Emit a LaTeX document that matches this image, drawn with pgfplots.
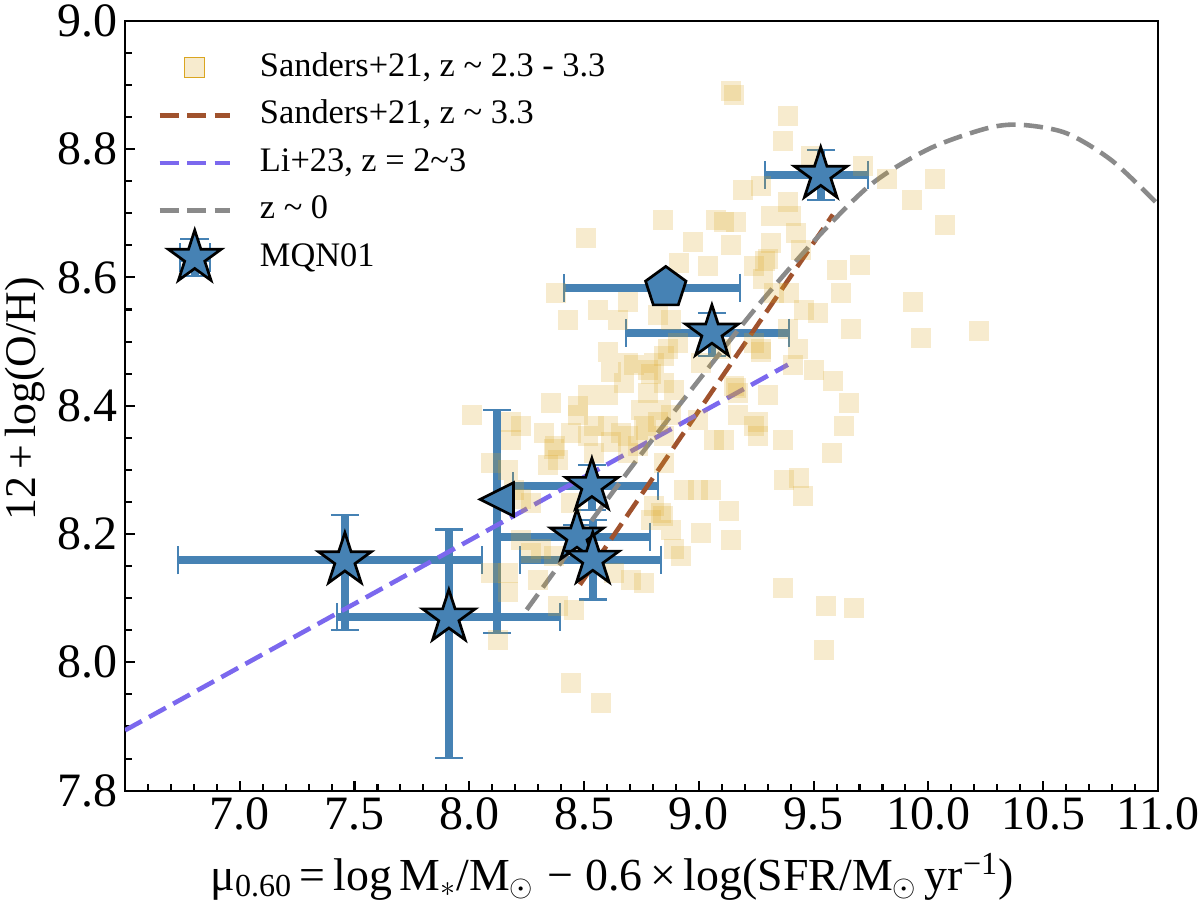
\documentclass[border=0pt]{standalone}
\usepackage{pgfplots}
\pgfplotsset{compat=1.18}
\usepackage{pgfplotstable}
\usepackage{fontspec}
\setmainfont{Liberation Serif}
\usetikzlibrary{calc}
\definecolor{sb}{RGB}{70,130,180}
\definecolor{brn}{RGB}{160,82,45}
\definecolor{pur}{RGB}{123,104,238}
\definecolor{gr}{RGB}{138,138,138}
\definecolor{gold}{RGB}{218,165,32}

\pgfdeclareplotmark{fstar}{%
  \pgfsetmiterjoin
  \pgfpathmoveto{\pgfpointpolar{90}{\pgfplotmarksize}}%
  \pgfpathlineto{\pgfpointpolar{126}{0.382\pgfplotmarksize}}%
  \pgfpathlineto{\pgfpointpolar{162}{\pgfplotmarksize}}%
  \pgfpathlineto{\pgfpointpolar{198}{0.382\pgfplotmarksize}}%
  \pgfpathlineto{\pgfpointpolar{234}{\pgfplotmarksize}}%
  \pgfpathlineto{\pgfpointpolar{270}{0.382\pgfplotmarksize}}%
  \pgfpathlineto{\pgfpointpolar{306}{\pgfplotmarksize}}%
  \pgfpathlineto{\pgfpointpolar{342}{0.382\pgfplotmarksize}}%
  \pgfpathlineto{\pgfpointpolar{18}{\pgfplotmarksize}}%
  \pgfpathlineto{\pgfpointpolar{54}{0.382\pgfplotmarksize}}%
  \pgfpathclose
  \pgfusepathqfillstroke
}
\pgfdeclareplotmark{fpent}{%
  \pgfsetmiterjoin
  \pgfpathmoveto{\pgfpointpolar{90}{\pgfplotmarksize}}%
  \pgfpathlineto{\pgfpointpolar{162}{\pgfplotmarksize}}%
  \pgfpathlineto{\pgfpointpolar{234}{\pgfplotmarksize}}%
  \pgfpathlineto{\pgfpointpolar{306}{\pgfplotmarksize}}%
  \pgfpathlineto{\pgfpointpolar{18}{\pgfplotmarksize}}%
  \pgfpathclose
  \pgfusepathqfillstroke
}
\pgfdeclareplotmark{tril}{%
  \pgfsetmiterjoin
  \pgfpathmoveto{\pgfqpoint{-\pgfplotmarksize}{0pt}}%
  \pgfpathlineto{\pgfqpoint{\pgfplotmarksize}{\pgfplotmarksize}}%
  \pgfpathlineto{\pgfqpoint{\pgfplotmarksize}{-\pgfplotmarksize}}%
  \pgfpathclose
  \pgfusepathqfillstroke
}

\pgfplotsset{
  lineleg/.style={legend image code/.code={\draw[##1] (0pt,0pt) -- (33.6pt,0pt);}},
  sqleg/.style={legend image code/.code={\path (0pt,0pt) (33.6pt,0pt); \fill[gold, fill opacity=0.22] (12pt,-4.8pt) rectangle (21.6pt,4.8pt);}},
  starleg/.style={legend image code/.code={\path (0pt,0pt) (33.6pt,0pt);
    \begin{scope}[overlay]
    \draw[sb, line width=3.8pt] (9.6pt,0pt) -- (24pt,0pt) (16.8pt,-8.9pt) -- (16.8pt,8.9pt);
    \draw[sb, line width=1pt] (9.6pt,-7pt) -- (9.6pt,7pt) (24pt,-7pt) -- (24pt,7pt) (9.8pt,8.9pt) -- (23.8pt,8.9pt) (9.8pt,-8.9pt) -- (23.8pt,-8.9pt);
    \draw plot[only marks, mark=fstar, mark size=13.3pt, mark options={fill=sb, draw=black, line width=1.3pt}] coordinates {(16.8pt,0pt)};
    \end{scope}}},
  error bars/ebar/.style={error bar style={line width=3.8pt, draw=sb, solid},
    error mark options={rotate=90, line width=1pt, mark size=6.7pt, draw=sb, solid}},
}

\pgfplotstableread{
x y
9.141 8.891
9.154 8.885
9.390 8.852
9.368 8.813
9.490 8.790
9.717 8.774
9.818 8.753
10.027 8.753
9.927 8.721
9.193 8.737
9.272 8.743
8.844 8.690
9.076 8.690
8.508 8.661
8.975 8.656
10.071 8.681
9.390 8.717
9.316 8.696
9.403 8.696
9.163 8.686
9.111 8.686
9.425 8.670
9.141 8.650
9.316 8.654
9.302 8.628
9.447 8.643
8.914 8.623
9.290 8.625
9.041 8.618
9.241 8.618
9.600 8.612
9.700 8.620
9.621 8.576
9.281 8.597
9.394 8.576
9.329 8.576
8.377 8.576
8.692 8.561
9.935 8.561
8.429 8.534
8.560 8.550
8.648 8.534
8.822 8.541
8.879 8.534
9.460 8.550
9.521 8.545
9.665 8.519
9.970 8.506
10.219 8.517
9.390 8.519
9.272 8.488
8.910 8.498
8.866 8.488
9.098 8.488
9.241 8.498
9.434 8.488
8.849 8.478
8.718 8.463
8.779 8.456
8.790 8.450
8.617 8.452
8.604 8.417
8.674 8.436
8.779 8.420
8.849 8.436
8.355 8.405
8.473 8.400
9.412 8.464
9.503 8.456
9.586 8.439
9.656 8.405
9.302 8.417
9.171 8.420
9.160 8.428
8.805 8.467
9.010 8.467
9.272 8.483
8.604 8.483
8.692 8.467
8.892 8.425
9.154 8.431
8.517 8.416
8.010 8.386
8.181 8.374
8.181 8.347
8.325 8.358
8.368 8.332
8.372 8.338
8.443 8.358
8.517 8.353
8.604 8.369
8.617 8.343
8.692 8.353
8.761 8.369
8.770 8.362
8.735 8.338
8.822 8.374
8.849 8.353
8.879 8.385
8.997 8.378
9.067 8.347
8.835 8.394
8.748 8.394
9.171 8.385
9.259 8.374
9.259 8.353
9.634 8.369
9.368 8.347
9.111 8.346
9.241 8.369
8.224 8.369
8.543 8.369
8.661 8.358
8.473 8.385
8.093 8.311
8.168 8.300
8.386 8.316
8.342 8.307
8.849 8.311
8.936 8.269
8.997 8.269
9.054 8.268
9.578 8.327
9.372 8.285
9.438 8.288
9.455 8.260
8.543 8.327
8.692 8.327
8.194 8.269
8.224 8.254
8.268 8.249
8.443 8.249
8.805 8.244
8.835 8.233
8.842 8.228
8.792 8.222
9.010 8.202
8.892 8.176
8.923 8.166
9.132 8.236
9.141 8.190
8.268 8.171
8.224 8.191
8.312 8.176
8.368 8.166
8.879 8.207
8.705 8.129
8.761 8.124
8.630 8.140
8.093 8.140
8.168 8.140
8.168 8.109
8.298 8.129
8.456 8.082
8.386 8.088
9.368 8.116
9.556 8.088
9.678 8.085
8.124 8.035
8.443 7.968
8.574 7.937
9.547 8.020
}\sqdata

\pgfplotstableread{
x y xm xp ym yp
7.458 8.159 0.727 0.597 0.108 0.071
7.911 8.070 0.488 0.484 0.219 0.137
8.534 8.275 0.344 0.287 0.037 0.033
8.469 8.196 0.336 0.317 0.018 0.018
8.538 8.160 0.318 0.296 0.062 0.062
9.057 8.514 0.375 0.335 0.037 0.030
9.531 8.760 0.244 0.205 0.040 0.039
}\stardata

\pgfplotstableread{
x y ym yp
8.120 8.254 0.208 0.140
}\tridata

\pgfplotstableread{
x y xm xp
8.856 8.584 0.444 0.323
}\pentdata

\begin{document}
\begin{tikzpicture}
\begin{axis}[
  scale only axis,
  width=495.8pt, height=369.5pt,
  xmin=6.5, xmax=11, ymin=7.8, ymax=9.0,
  xtick={7,7.5,8,8.5,9,9.5,10,10.5,11},
  ytick={7.8,8,8.2,8.4,8.6,8.8,9},
  minor xtick={6.6,6.7,...,10.95},
  minor ytick={7.85,7.9,...,8.99},
  tick align=inside,
  tick pos=left,
  major tick length=4.8pt,
  minor tick length=3.2pt,
  every tick/.style={black, line width=1pt},
  axis line style={line width=1pt},
  /pgf/number format/assume math mode=true,
  tick label style={font=\fontsize{23}{23}\selectfont},
  xticklabel style={/pgf/number format/fixed, /pgf/number format/fixed zerofill, /pgf/number format/precision=1},
  yticklabel style={/pgf/number format/fixed, /pgf/number format/fixed zerofill, /pgf/number format/precision=1},
  xlabel={μ\textsubscript{0.60}\,=\,log\,M\textsubscript{$*$}/M\textsubscript{$\odot$}\;−\;0.6\,×\,log(SFR/M\textsubscript{$\odot$}\,yr\textsuperscript{−1})},
  ylabel={12\,+\,log(O/H)},
  every axis x label/.style={at={(axis description cs:0.4715,-0.112)}, anchor=center, font=\fontsize{22}{22}\selectfont},
  every axis y label/.style={at={(axis description cs:-0.097,0.509)}, anchor=center, rotate=90, font=\fontsize{21}{21}\selectfont},
  legend cell align=left,
  legend style={draw=none, fill=none, inner sep=0pt,
    at={(axis description cs:0.031,0.9597)}, anchor=north west,
    font=\fontsize{16.5}{19}\selectfont,
    row sep=7.8pt,
    nodes={inner sep=0pt, text height=11.5pt, text depth=3.5pt},
    /tikz/every odd column/.append style={column sep=13.4pt}},
]

\addlegendimage{sqleg}
\addlegendentry{Sanders+21, z \textasciitilde{} 2.3 - 3.3}
\addlegendimage{brn, line width=2.2pt, dash pattern=on 9.2pt off 4pt, lineleg}
\addlegendentry{Sanders+21, z \textasciitilde{} 3.3}
\addlegendimage{pur, line width=2.2pt, dash pattern=on 9.2pt off 4pt, lineleg}
\addlegendentry{Li+23, z = 2\textasciitilde{}3}
\addlegendimage{gr, line width=2.2pt, dash pattern=on 9.2pt off 4pt, lineleg}
\addlegendentry{z \textasciitilde{} 0}
\addlegendimage{starleg}
\addlegendentry{MQN01}

% scatter of Sanders+21
\addplot[forget plot, only marks, mark=square*, mark size=4.8pt,
  mark options={fill=gold, fill opacity=0.22, draw opacity=0}] table[x=x,y=y] {\sqdata};

% error bars
\addplot[forget plot, only marks, mark=none,
  error bars/.cd, x dir=both, x explicit, y dir=both, y explicit, ebar]
  table[x=x, y=y, x error minus=xm, x error plus=xp, y error minus=ym, y error plus=yp] {\stardata};
\addplot[forget plot, only marks, mark=none,
  error bars/.cd, y dir=both, y explicit, ebar]
  table[x=x, y=y, y error minus=ym, y error plus=yp] {\tridata};
\addplot[forget plot, only marks, mark=none,
  error bars/.cd, x dir=both, x explicit, ebar]
  table[x=x, y=y, x error minus=xm, x error plus=xp] {\pentdata};

% relations
\addplot[forget plot, brn, line width=2.2pt, dash pattern=on 9.2pt off 4pt] coordinates {(8.482,8.121) (9.584,8.698)};
\addplot[forget plot, pur, line width=2.2pt, dash pattern=on 9.2pt off 4pt] coordinates {(6.5,7.894) (9.388,8.464)};
\addplot[forget plot, gr, line width=2.2pt, dash pattern=on 9.2pt off 4pt, smooth] coordinates {
 (8.25,8.082) (8.50,8.205) (8.75,8.325) (9.00,8.440) (9.25,8.553) (9.50,8.656)
 (9.75,8.745) (10.00,8.800) (10.25,8.832) (10.40,8.838) (10.60,8.825) (10.80,8.782) (11.00,8.714)};

% MQN01 markers
\addplot[forget plot, only marks, mark=fstar, mark size=13.3pt,
  mark options={fill=sb, draw=black, line width=1.3pt}] table[x=x,y=y] {\stardata};
\addplot[forget plot, only marks, mark=tril, mark size=8pt,
  mark options={fill=sb, draw=black, line width=1.3pt}] table[x=x,y=y] {\tridata};
\addplot[forget plot, only marks, mark=fpent, mark size=10.2pt,
  mark options={fill=sb, draw=black, line width=1.3pt}] table[x=x,y=y] {\pentdata};

\coordinate (SW) at (rel axis cs:0,0);
\coordinate (NE) at (rel axis cs:1,1);
\end{axis}
\pgfresetboundingbox
\path[use as bounding box] ($(SW)+(-60pt,-55pt)$) rectangle ($(NE)+(20.2pt,10pt)$);
\end{tikzpicture}
\end{document}
